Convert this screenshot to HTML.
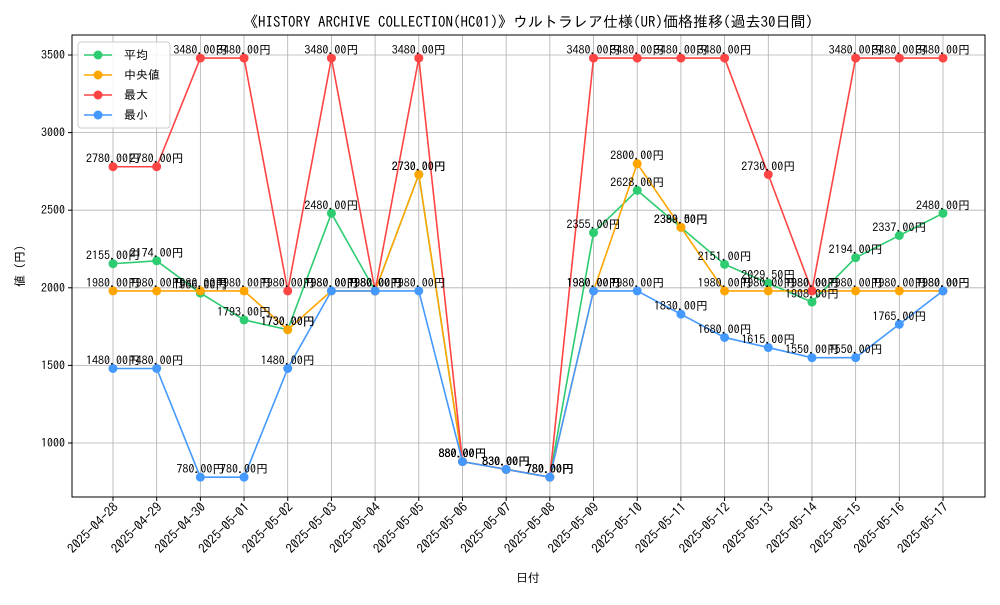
<!DOCTYPE html>
<html><head><meta charset="utf-8"><style>
body{margin:0;background:#fff;}
svg{font-family:"IPAGothic","Liberation Sans","Noto Sans CJK JP",sans-serif;}
</style></head><body>
<svg id="chart" width="1000" height="600" xmlns="http://www.w3.org/2000/svg">
<rect width="1000" height="600" fill="#fff"/>
<text x="528" y="27" font-size="15" text-anchor="middle">《HISTORY ARCHIVE COLLECTION(HC01)》ウルトラレア仕様(UR)価格推移(過去30日間)</text>
<g id="grid"></g>
<g id="series"></g>
<g id="labels"></g>
<rect x="72" y="35" width="913" height="462" fill="none" stroke="#000" stroke-width="1"/>
<g id="axes"></g>
<text x="528" y="582" font-size="12" text-anchor="middle">日付</text>
<text x="24" y="266" font-size="12" text-anchor="middle" transform="rotate(-90 24 266)">値 (円)</text>
<g id="legend"></g>
</svg>
<script>
const dates=["2025-04-28","2025-04-29","2025-04-30","2025-05-01","2025-05-02","2025-05-03","2025-05-04","2025-05-05","2025-05-06","2025-05-07","2025-05-08","2025-05-09","2025-05-10","2025-05-11","2025-05-12","2025-05-13","2025-05-14","2025-05-15","2025-05-16","2025-05-17"];
const avgVals=[2155,2174,1966,1793,1730,2480,1980,2730,880,830,780,2355,2628,2389.5,2151,2029.5,1908,2194,2337,2480];
const medVals=[1980,1980,1980,1980,1730,1980,1980,2730,880,830,780,1980,2800,2390,1980,1980,1980,1980,1980,1980];
const maxVals=[2780,2780,3480,3480,1980,3480,1980,3480,880,830,780,3480,3480,3480,3480,2730,1980,3480,3480,3480];
const minVals=[1480,1480,780,780,1480,1980,1980,1980,880,830,780,1980,1980,1830,1680,1615,1550,1550,1765,1980];
const yTicks=[1000,1500,2000,2500,3000,3500];
const seriesNames=["平均","中央値","最大","最小"];
const colors=["#2ecc71","#ffa500","#ff4444","#4499ff"];
const NS="http://www.w3.org/2000/svg";
const xS=i=>113+i*(943-113)/(dates.length-1);
const yS=v=>443-(v-1000)*(443-55)/2500;
function mk(tag,attrs,parent,text){const e=document.createElementNS(NS,tag);for(const k in attrs)e.setAttribute(k,attrs[k]);if(text!==undefined)e.textContent=text;parent.appendChild(e);return e;}
const grid=document.getElementById('grid'),axes=document.getElementById('axes'),ser=document.getElementById('series'),lab=document.getElementById('labels'),leg=document.getElementById('legend');
yTicks.forEach(t=>{const y=yS(t);
 const g=mk('line',{x1:72,x2:985,y1:y,y2:y,stroke:'#b0b0b0','stroke-width':0.8},grid);
 
 mk('line',{x1:68,x2:72,y1:y,y2:y,stroke:'#000'},axes);
 const tx=mk('text',{x:65,y:y+4,'font-size':12,'text-anchor':'end'},axes,String(t));
 });
dates.forEach((d,i)=>{const x=xS(i);
 const g=mk('line',{x1:x,x2:x,y1:35,y2:497,stroke:'#b0b0b0','stroke-width':0.8},grid);
 
 mk('line',{x1:x,x2:x,y1:497,y2:501,stroke:'#000'},axes);
 const tx=mk('text',{x:x+6,y:508,'font-size':13,'text-anchor':'end',transform:`rotate(-45 ${x+6} 508)`},axes,d);
 });
const all=[avgVals,medVals,maxVals,minVals];
all.forEach((vals,s)=>{
 const pl=mk('polyline',{points:vals.map((v,i)=>xS(i)+','+yS(v)).join(' '),fill:'none',stroke:colors[s],'stroke-width':1.6},ser);
 
 vals.forEach((v,i)=>{
  const c=mk('circle',{cx:xS(i),cy:yS(v),r:4.5,fill:colors[s]},ser);
  
  const t=mk('text',{x:xS(i),y:yS(v)-4,'font-size':12,'text-anchor':'middle'},lab,v.toFixed(2)+'円');
  });
});
mk('rect',{x:78,y:42,width:92,height:86,fill:'#fff','fill-opacity':0.85,stroke:'#ccc',rx:3},leg);
seriesNames.forEach((n,s)=>{const y=55+s*20;
 const e=mk('g',{},leg);
 
 mk('line',{x1:84,x2:112,y1:y,y2:y,stroke:colors[s],'stroke-width':1.6},e);
 mk('circle',{cx:98,cy:y,r:4.5,fill:colors[s]},e);
 mk('text',{x:124,y:y+4,'font-size':12},e,n);});
</script>
</body></html>
